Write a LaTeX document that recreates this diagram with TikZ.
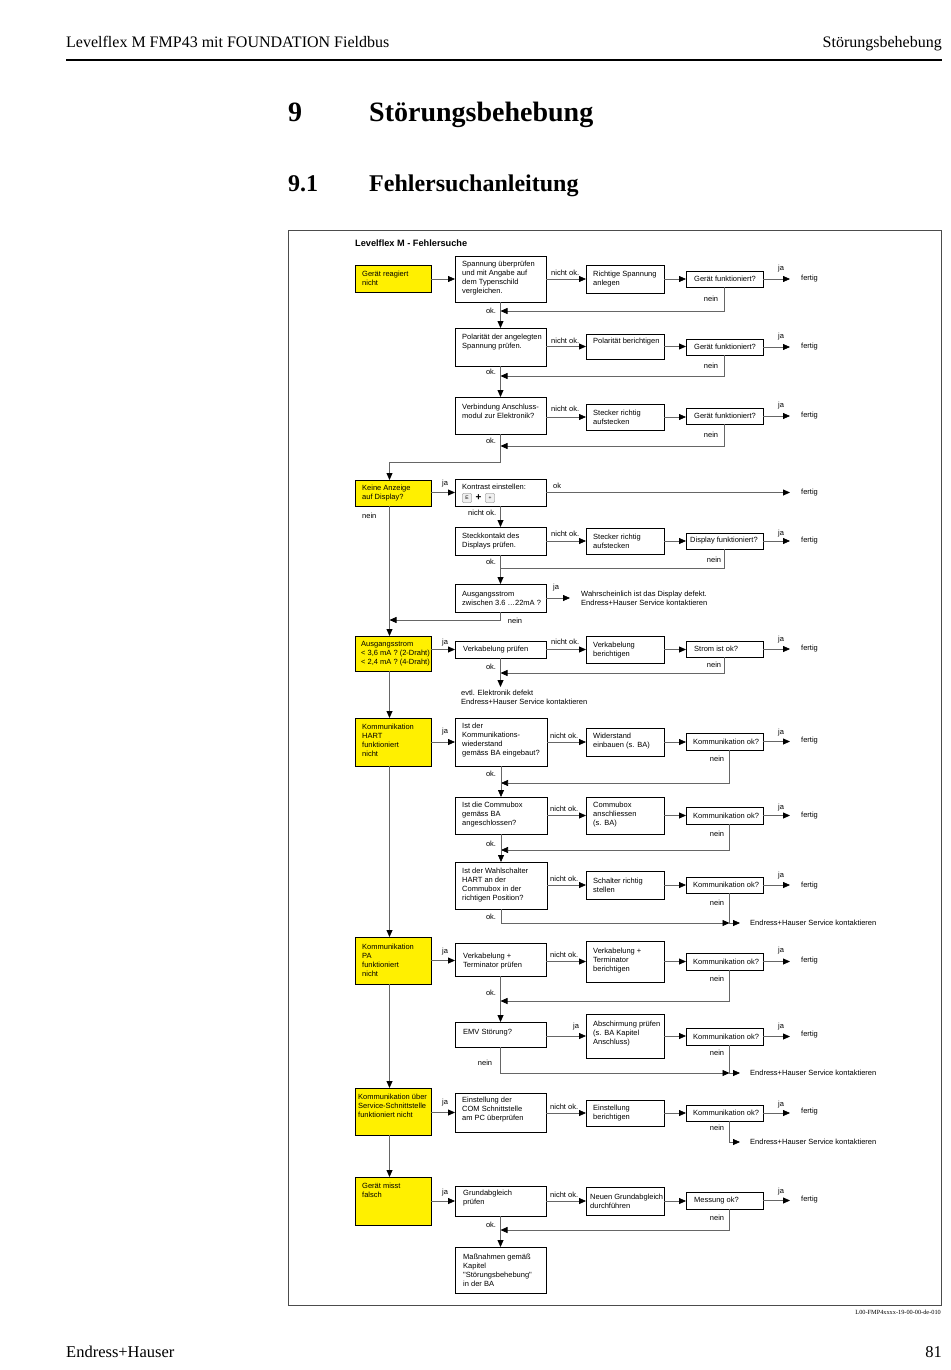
\documentclass[tikz,border=0pt]{standalone}
\usepackage{fontspec}
\setmainfont{Liberation Serif}
\newfontfamily\arialf{Liberation Sans}
\usetikzlibrary{arrows.meta,shadows}
\definecolor{yel}{RGB}{255,240,0}
\newcommand{\dtext}{\arialf\fontsize{7.5}{9}\selectfont}
% box: style, name, x1, y1, x2, y2
\newcommand{\bx}[6]{\node[#1, anchor=north west, minimum width={(#5-#3)*1pt}, minimum height={(#6-#4)*1pt}] (#2) at (#3,#4) {};}
% left text: name, x, y, text
\newcommand{\lt}[4]{\node[tx] (#1) at (#2,#3) {#4};}
% centred text
\newcommand{\cl}[4]{\node[ct] (#1) at (#2,#3) {#4};}
\tikzset{
  box/.style={draw=black, line width=0.9pt, fill=white, inner sep=0pt, outer sep=0pt,
    drop shadow={shadow xshift=1.2pt, shadow yshift=-1.2pt, opacity=1, fill=black}},
  ybox/.style={box, fill=yel},
  ln/.style={draw=black!60, line width=0.75pt},
  arr/.style={ln, -{Triangle[length=7pt,width=6pt,color=black]}},
  tx/.style={font=\dtext, align=left, inner sep=0pt, anchor=west},
  ct/.style={font=\dtext, align=center, inner sep=0pt},
  key/.style={draw=black!55, fill=black!6, minimum size=9pt, inner sep=0pt, rounded corners=0.8pt,
    font=\arialf\fontsize{5}{5}\selectfont},
}
\begin{document}
\begin{tikzpicture}[x=1pt,y=-1pt]
\useasboundingbox (0,0) rectangle (950,1370);
% ---------- page header ----------
\node[anchor=base west, inner sep=0pt, font=\fontsize{16}{16}\selectfont] (hl) at (66,48) {Levelflex M FMP43 mit FOUNDATION Fieldbus};
\node[anchor=base east, inner sep=0pt, font=\fontsize{16}{16}\selectfont] (hr) at (942,48) {Störungsbehebung};
\draw[line width=1.3pt] (66,60) -- (942,60);
\node[anchor=base west, inner sep=0pt, font=\bfseries\fontsize{28}{28}\selectfont] (h9) at (288,122) {9};
\node[anchor=base west, inner sep=0pt, font=\bfseries\fontsize{28}{28}\selectfont] (h9t) at (369,122) {Störungsbehebung};
\node[anchor=base west, inner sep=0pt, font=\bfseries\fontsize{24}{24}\selectfont] (h91) at (288,191) {9.1};
\node[anchor=base west, inner sep=0pt, font=\bfseries\fontsize{24}{24}\selectfont] (h91t) at (369,191) {Fehlersuchanleitung};
% ---------- footer ----------
\node[anchor=base west, inner sep=0pt, font=\fontsize{16.5}{16}\selectfont] (fl) at (66,1357) {Endress+Hauser};
\node[anchor=base east, inner sep=0pt, font=\fontsize{16.5}{16}\selectfont] (fr) at (942,1357) {81};
\node[anchor=base east, inner sep=0pt, font=\fontsize{6.3}{7}\selectfont] (code) at (941,1314) {L00-FMP4xxxx-19-00-00-de-010};
% ---------- frame ----------
\draw[line width=0.7pt, black!70] (288,230) rectangle (941,1305);
\node[anchor=west, inner sep=0pt, font=\arialf\bfseries\fontsize{9.2}{10}\selectfont] (dtitle) at (355,243) {Levelflex M - Fehlersuche};

% ================= Row 1 =================
\bx{ybox}{y1}{355}{265}{431}{292}
\lt{y1t}{362}{278.5}{Gerät reagiert\\nicht}
\bx{box}{b1}{455}{256}{546}{302}
\lt{b1t}{462}{278.5}{Spannung überprüfen\\und mit Angabe auf\\dem Typenschild\\vergleichen.}
\bx{box}{c1}{586}{265}{664}{293}
\lt{c1t}{593}{279}{Richtige Spannung\\anlegen}
\bx{box}{d1}{686}{271}{763}{287}
\lt{d1t}{694}{279}{Gerät funktioniert?}
\lt{f1}{801}{279}{fertig}
\lt{n1}{551}{272.5}{nicht ok.}
\lt{j1}{778}{269}{ja}
\cl{ne1}{711}{299}{nein}
\cl{ok1}{491}{311}{ok.}
\coordinate (r1) at (500.5,311);
\draw[arr] (b1.west -| y1.east) -- (b1.west);
\draw[arr] (c1.west -| b1.east) -- (c1.west);
\draw[arr] (c1.east) -- (d1.west);
\draw[arr, shorten >=11pt] (d1.east) -- (d1.east -| f1.west);
\draw[arr] (d1.south) |- (r1);

% ================= Row 2 =================
\bx{box}{b2}{455}{328}{546}{366}
\lt{b2t}{462}{342}{Polarität der angelegten\\Spannung prüfen.}
\bx{box}{c2}{586}{334}{664}{359}
\lt{c2t}{593}{342}{Polarität berichtigen}
\bx{box}{d2}{686}{339}{763}{355}
\lt{d2t}{694}{347}{Gerät funktioniert?}
\lt{f2}{801}{347}{fertig}
\lt{n2}{551}{340.5}{nicht ok.}
\lt{j2}{778}{337}{ja}
\cl{ne2}{711}{366}{nein}
\cl{ok2}{491}{372}{ok.}
\coordinate (r2) at (500.5,376);
\draw[arr] (b1.south) -- (b2.north);
\draw[arr] (c2.west -| b2.east) -- (c2.west);
\draw[arr] (c2.east) -- (c2.east -| d2.west);
\draw[arr, shorten >=11pt] (d2.east) -- (d2.east -| f2.west);
\draw[arr] (d2.south) |- (r2);

% ================= Row 3 =================
\bx{box}{b3}{455}{397}{546}{434}
\lt{b3t}{462}{411}{Verbindung Anschluss-\\modul zur Elektronik?}
\bx{box}{c3}{586}{404}{664}{430}
\lt{c3t}{593}{417}{Stecker richtig\\aufstecken}
\bx{box}{d3}{686}{408}{763}{424}
\lt{d3t}{694}{416}{Gerät funktioniert?}
\lt{f3}{801}{416}{fertig}
\lt{n3}{551}{409}{nicht ok.}
\lt{j3}{778}{406}{ja}
\cl{ne3}{711}{435}{nein}
\cl{ok3}{491}{441}{ok.}
\coordinate (r3) at (500.5,446);
\coordinate (s1) at (500.5,462);
\draw[arr] (b2.south) -- (b3.north);
\draw[arr] (c3.west -| b3.east) -- (c3.west);
\draw[arr] (c3.east) -- (c3.east -| d3.west);
\draw[arr, shorten >=11pt] (d3.east) -- (d3.east -| f3.west);
\draw[arr] (d3.south) |- (r3);

% ================= Row 4 : Display =================
\bx{ybox}{y2}{355}{480}{431}{506}
\lt{y2t}{362}{493}{Keine Anzeige\\auf Display?}
\draw[arr] (b3.south) -- (s1) -| ([xshift=-3.5pt]y2.north);
\bx{box}{b4}{455}{479}{546}{506}
\lt{b4t}{462}{487}{Kontrast einstellen:}
\node[key] (k1) at (467,498) {E};
\node[inner sep=0pt, font=\arialf\bfseries\fontsize{10}{10}\selectfont] (kp) at (478.5,498) {+};
\node[key] (k2) at (490,498) {+};
\lt{j4}{442}{484}{ja}
\lt{ok4}{553}{486}{ok}
\lt{f4}{801}{493}{fertig}
\lt{ne4}{362}{516}{nein}
\lt{n4}{468}{513}{nicht ok.}
\draw[arr] (b4.west -| y2.east) -- (b4.west);
\draw[arr, shorten >=11pt] (b4.east) -- (b4.east -| f4.west);

\bx{box}{b5}{455}{527}{546}{555}
\lt{b5t}{462}{541}{Steckkontakt des\\Displays prüfen.}
\bx{box}{c5}{586}{528}{664}{554}
\lt{c5t}{593}{541}{Stecker richtig\\aufstecken}
\bx{box}{d5}{686}{533}{763}{549}
\lt{d5t}{690}{541}{Display funktioniert?}
\lt{f5}{801}{541}{fertig}
\lt{n5}{551}{533.5}{nicht ok.}
\lt{j5}{778}{534}{ja}
\cl{ne5}{714}{560}{nein}
\cl{ok5}{491}{562}{ok.}
\coordinate (r5) at (500.5,568);
\draw[arr] (b4.south) -- (b5.north);
\draw[arr] (c5.west -| b5.east) -- (c5.west);
\draw[arr] (c5.east) -- (c5.east -| d5.west);
\draw[arr, shorten >=11pt] (d5.east) -- (d5.east -| f5.west);
\draw[ln] (d5.south) |- (r5);

\bx{box}{b6}{455}{584}{546}{612}
\lt{b6t}{462}{598}{Ausgangsstrom\\zwischen 3.6 …22mA ?}
\lt{j6}{553}{588}{ja}
\lt{w6}{581}{598}{Wahrscheinlich ist das Display defekt.\\Endress+Hauser Service kontaktieren}
\cl{ne6}{515}{621}{nein}
\coordinate (r6) at (389.5,620);
\draw[arr] (b5.south) -- (b6.north);
\draw[arr, shorten >=11pt] (b6.east) -- (b6.east -| w6.west);
\draw[arr] (b6.south) |- (r6);

% ================= Row 5 : Ausgangsstrom =================
\bx{ybox}{y3}{355}{636}{431}{671}
\lt{y3t}{361}{654}{Ausgangsstrom\\< 3,6 mA ? (2-Draht)\\< 2,4 mA ? (4-Draht)}
\draw[arr] ([xshift=-3.5pt]y2.south) -- ([xshift=-3.5pt]y3.north);
\bx{box}{b7}{455}{641}{546}{658}
\lt{b7t}{463}{649.5}{Verkabelung prüfen}
\bx{box}{c7}{586}{636}{664}{663}
\lt{c7t}{593}{650}{Verkabelung\\berichtigen}
\bx{box}{d7}{686}{641}{763}{657}
\lt{d7t}{694}{649}{Strom ist ok?}
\lt{f7}{801}{649}{fertig}
\lt{j7a}{442}{643}{ja}
\lt{n7}{551}{641.5}{nicht ok.}
\lt{j7}{778}{640}{ja}
\cl{ne7}{714}{665}{nein}
\cl{ok7}{491}{667}{ok.}
\coordinate (r7) at (500.5,673);
\coordinate (e7) at (500.5,687);
\lt{ev}{461}{697.5}{evtl. Elektronik defekt\\Endress+Hauser Service kontaktieren}
\draw[arr] (b7.west -| y3.east) -- (b7.west);
\draw[arr] (c7.west -| b7.east) -- (c7.west);
\draw[arr] (c7.east) -- (c7.east -| d7.west);
\draw[arr, shorten >=11pt] (d7.east) -- (d7.east -| f7.west);
\draw[arr] (d7.south) |- (r7);
\draw[arr] (b7.south) -- (e7);

% ================= Row 6 : HART =================
\bx{ybox}{y4}{355}{718}{431}{766}
\lt{y4t}{362}{740.5}{Kommunikation\\HART\\funktioniert\\nicht}
\draw[arr] ([xshift=-3.5pt]y3.south) -- ([xshift=-3.5pt]y4.north);
\bx{box}{b8}{455}{718}{547}{766}
\lt{b8t}{462}{740.5}{Ist der\\Kommunikations-\\wiederstand\\gemäss BA eingebaut?}
\bx{box}{c8}{586}{728}{664}{756}
\lt{c8t}{593}{741}{Widerstand\\einbauen (s. BA)}
\bx{box}{d8}{686}{733}{763}{750}
\lt{d8t}{693}{741.5}{Kommunikation ok?}
\lt{f8}{801}{741}{fertig}
\lt{j8a}{442}{732}{ja}
\lt{n8}{550}{735.5}{nicht ok.}
\lt{j8}{778}{733}{ja}
\cl{ne8}{717}{759}{nein}
\cl{ok8}{491}{774}{ok.}
\coordinate (r8) at (501,783);
\draw[arr] (b8.west -| y4.east) -- (b8.west);
\draw[arr] (c8.west -| b8.east) -- (c8.west);
\draw[arr] (c8.east) -- (c8.east -| d8.west);
\draw[arr, shorten >=11pt] (d8.east) -- (d8.east -| f8.west);
\draw[arr] ([xshift=5pt]d8.south) |- (r8);

\bx{box}{b9}{455}{797}{547}{834}
\lt{b9t}{462}{815}{Ist die Commubox\\gemäss BA\\angeschlossen?}
\bx{box}{c9}{586}{797}{664}{834}
\lt{c9t}{593}{815}{Commubox\\anschliessen\\(s. BA)}
\bx{box}{d9}{686}{807}{763}{824}
\lt{d9t}{693}{815.5}{Kommunikation ok?}
\lt{f9}{801}{816}{fertig}
\lt{n9}{550}{808.5}{nicht ok.}
\lt{j9}{778}{808}{ja}
\cl{ne9}{717}{834}{nein}
\cl{ok9}{491}{844}{ok.}
\coordinate (r9) at (501,850);
\draw[arr] (b8.south) -- (b9.north);
\draw[arr] (c9.west -| b9.east) -- (c9.west);
\draw[arr] (c9.east) -- (c9.east -| d9.west);
\draw[arr, shorten >=11pt] (d9.east) -- (d9.east -| f9.west);
\draw[arr] ([xshift=5pt]d9.south) |- (r9);

\bx{box}{b10}{455}{862}{547}{909}
\lt{b10t}{462}{885.5}{Ist der Wahlschalter\\HART an der\\Commubox in der\\richtigen Position?}
\bx{box}{c10}{586}{871}{664}{899}
\lt{c10t}{593}{885}{Schalter richtig\\stellen}
\bx{box}{d10}{686}{877}{763}{893}
\lt{d10t}{693}{885}{Kommunikation ok?}
\lt{f10}{801}{886}{fertig}
\lt{n10}{550}{878.5}{nicht ok.}
\lt{j10}{778}{876}{ja}
\cl{ne10}{717}{903}{nein}
\cl{ok10}{491}{917}{ok.}
\lt{es10}{750}{923}{Endress+Hauser Service kontaktieren}
\coordinate (q10) at (729.5,923);
\draw[arr] (b9.south) -- (b10.north);
\draw[arr] (c10.west -| b10.east) -- (c10.west);
\draw[arr] (c10.east) -- (c10.east -| d10.west);
\draw[arr, shorten >=11pt] (d10.east) -- (d10.east -| f10.west);
\draw[arr] (b10.south) |- (q10);
\draw[arr, shorten >=10pt] ([xshift=5pt]d10.south) |- (es10.west);

% ================= Row 7 : PA =================
\bx{ybox}{y5}{355}{937}{431}{984}
\lt{y5t}{362}{960}{Kommunikation\\PA\\funktioniert\\nicht}
\draw[arr] ([xshift=-3.5pt]y4.south) -- ([xshift=-3.5pt]y5.north);
\bx{box}{b11}{455}{943}{546}{976}
\lt{b11t}{463}{961}{Verkabelung +\\Terminator prüfen}
\bx{box}{c11}{586}{941}{664}{982}
\lt{c11t}{593}{961}{Verkabelung +\\Terminator\\berichtigen}
\bx{box}{d11}{686}{953}{763}{970}
\lt{d11t}{693}{961.5}{Kommunikation ok?}
\lt{f11}{801}{961}{fertig}
\lt{j11a}{442}{952}{ja}
\lt{n11}{550}{955}{nicht ok.}
\lt{j11}{778}{951}{ja}
\cl{ne11}{717}{979}{nein}
\cl{ok11}{491}{993}{ok.}
\coordinate (r11) at (500.5,1001);
\draw[arr] (y5.east) -- (y5.east -| b11.west);
\draw[arr] (c11.west -| b11.east) -- (c11.west);
\draw[arr] (c11.east) -- (c11.east -| d11.west);
\draw[arr, shorten >=11pt] (d11.east) -- (d11.east -| f11.west);
\draw[arr] ([xshift=5pt]d11.south) |- (r11);

\bx{box}{b12}{455}{1022}{546}{1047}
\lt{b12t}{463}{1033}{EMV Störung?}
\bx{box}{c12}{586}{1014}{664}{1058}
\lt{c12t}{593}{1034}{Abschirmung prüfen\\(s. BA Kapitel\\Anschluss)}
\bx{box}{d12}{686}{1028}{763}{1045}
\lt{d12t}{693}{1036.5}{Kommunikation ok?}
\lt{f12}{801}{1035}{fertig}
\lt{j12a}{573}{1027}{ja}
\lt{j12}{778}{1027}{ja}
\cl{ne12}{717}{1053}{nein}
\cl{ne12b}{485}{1063}{nein}
\lt{es12}{750}{1073}{Endress+Hauser Service kontaktieren}
\coordinate (q12) at (729.5,1073);
\draw[arr] (b11.south) -- (b12.north);
\draw[arr] (c12.west -| b12.east) -- (c12.west);
\draw[arr] (c12.east) -- (c12.east -| d12.west);
\draw[arr, shorten >=11pt] (d12.east) -- (d12.east -| f12.west);
\draw[arr] (b12.south) |- (q12);
\draw[arr, shorten >=10pt] ([xshift=5pt]d12.south) |- (es12.west);

% ================= Row 8 : Service =================
\bx{ybox}{y6}{355}{1088}{431}{1135}
\lt{y6t}{358}{1106}{Kommunikation über\\Service-Schnittstelle\\funktioniert nicht}
\draw[arr] ([xshift=-3.5pt]y5.south) -- ([xshift=-3.5pt]y6.north);
\bx{box}{b13}{455}{1093}{546}{1132}
\lt{b13t}{462}{1110}{Einstellung der\\COM Schnittstelle\\am PC überprüfen}
\bx{box}{c13}{586}{1100}{664}{1126}
\lt{c13t}{593}{1113}{Einstellung\\berichtigen}
\bx{box}{d13}{686}{1105}{763}{1121}
\lt{d13t}{693}{1113}{Kommunikation ok?}
\lt{f13}{801}{1112}{fertig}
\lt{j13a}{442}{1103}{ja}
\lt{n13}{550}{1106.5}{nicht ok.}
\lt{j13}{778}{1105}{ja}
\cl{ne13}{717}{1128}{nein}
\lt{es13}{750}{1142}{Endress+Hauser Service kontaktieren}
\draw[arr] (b13.west -| y6.east) -- (b13.west);
\draw[arr] (c13.west -| b13.east) -- (c13.west);
\draw[arr] (c13.east) -- (c13.east -| d13.west);
\draw[arr, shorten >=11pt] (d13.east) -- (d13.east -| f13.west);
\draw[arr, shorten >=10pt] ([xshift=5pt]d13.south) |- (es13.west);

% ================= Row 9 : misst falsch =================
\bx{ybox}{y7}{355}{1177}{431}{1225}
\lt{y7t}{362}{1190.5}{Gerät misst\\falsch}
\draw[arr] ([xshift=-3.5pt]y6.south) -- ([xshift=-3.5pt]y7.north);
\bx{box}{b14}{455}{1186}{546}{1216}
\lt{b14t}{463}{1198.5}{Grundabgleich\\prüfen}
\bx{box}{c14}{586}{1187}{664}{1215}
\lt{c14t}{590}{1201}{Neuen Grundabgleich\\durchführen}
\bx{box}{d14}{686}{1192}{763}{1209}
\lt{d14t}{694}{1200.5}{Messung ok?}
\lt{f14}{801}{1200}{fertig}
\lt{j14a}{442}{1193}{ja}
\lt{n14}{550}{1194.5}{nicht ok.}
\lt{j14}{778}{1192}{ja}
\cl{ne14}{717}{1218}{nein}
\cl{ok14}{491}{1225}{ok.}
\coordinate (r14) at (500.5,1230);
\draw[arr] (b14.west -| y7.east) -- (b14.west);
\draw[arr] (c14.west -| b14.east) -- (c14.west);
\draw[arr] (c14.east) -- (c14.east -| d14.west);
\draw[arr, shorten >=11pt] (d14.east) -- (d14.east -| f14.west);
\draw[arr] ([xshift=5pt]d14.south) |- (r14);

\bx{box}{b15}{455}{1247}{546}{1293}
\lt{b15t}{463}{1270}{Maßnahmen gemäß\\Kapitel\\"Störungsbehebung"\\in der BA}
\draw[arr] (b14.south) -- (b15.north);
\end{tikzpicture}
\end{document}
